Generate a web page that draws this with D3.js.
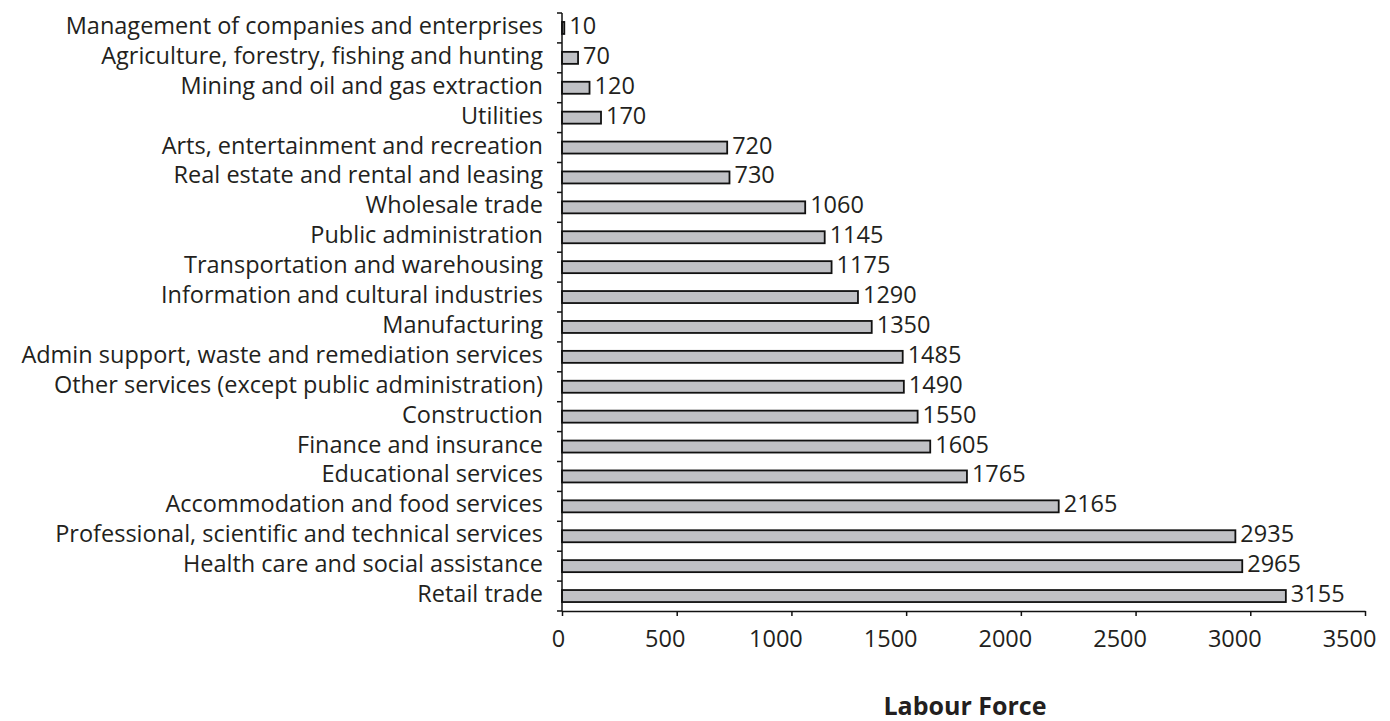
<!DOCTYPE html>
<html>
<head>
<meta charset="utf-8">
<script src="https://cdn.jsdelivr.net/npm/d3@7"></script>
<style>
  body { margin: 0; background: #fff; }
  text { font-family: "Open Sans", sans-serif; fill: #231f20; }
</style>
</head>
<body>
<div id="chart"></div>
<script>
// data, top to bottom as in the picture
var industries = [
  "Management of companies and enterprises",
  "Agriculture, forestry, fishing and hunting",
  "Mining and oil and gas extraction",
  "Utilities",
  "Arts, entertainment and recreation",
  "Real estate and rental and leasing",
  "Wholesale trade",
  "Public administration",
  "Transportation and warehousing",
  "Information and cultural industries",
  "Manufacturing",
  "Admin support, waste and remediation services",
  "Other services (except public administration)",
  "Construction",
  "Finance and insurance",
  "Educational services",
  "Accommodation and food services",
  "Professional, scientific and technical services",
  "Health care and social assistance",
  "Retail trade"
];
var labourForce = [10, 70, 120, 170, 720, 730, 1060, 1145, 1175, 1290, 1350,
  1485, 1490, 1550, 1605, 1765, 2165, 2935, 2965, 3155];
var xTicks = [0, 500, 1000, 1500, 2000, 2500, 3000, 3500];
var xTitle = "Labour Force";

var width = 1390, height = 721;
var plotLeft = 562, plotRight = 1365, plotTop = 13, plotBottom = 611;

var svg = d3.select("#chart").append("svg")
  .attr("width", width)
  .attr("height", height);

var x = d3.scaleLinear().domain([0, 3500]).range([plotLeft, plotRight]);
var yb = d3.scaleBand().domain(industries).range([plotTop, plotBottom]);
var barH = 12;

// bars
svg.append("g").selectAll("rect")
  .data(industries)
  .enter().append("rect")
  .attr("x", x(0))
  .attr("y", function(d) { return yb(d) + yb.bandwidth() / 2 - barH / 2; })
  .attr("width", function(d, i) { return x(labourForce[i]) - x(0); })
  .attr("height", barH)
  .attr("fill", "#c0c1c5")
  .attr("stroke", "#111")
  .attr("stroke-width", 1.8);

// value labels
svg.append("g").selectAll("text")
  .data(industries)
  .enter().append("text")
  .attr("x", function(d, i) { return x(labourForce[i]) + 5; })
  .attr("y", function(d) { return yb(d) + yb.bandwidth() / 2 + 6; })
  .attr("font-size", 23.5)
  .text(function(d, i) { return labourForce[i]; });

// y axis: line + ticks between categories
var ya = svg.append("g");
ya.append("line")
  .attr("x1", plotLeft).attr("x2", plotLeft)
  .attr("y1", plotTop).attr("y2", plotBottom)
  .attr("stroke", "#111").attr("stroke-width", 1.5);
ya.selectAll("line.tk")
  .data(d3.range(industries.length + 1))
  .enter().append("line")
  .attr("class", "tk")
  .attr("x1", plotLeft - 5).attr("x2", plotLeft)
  .attr("y1", function(i) { return plotTop + i * yb.step(); })
  .attr("y2", function(i) { return plotTop + i * yb.step(); })
  .attr("stroke", "#111").attr("stroke-width", 1.5);
ya.selectAll("text")
  .data(industries)
  .enter().append("text")
  .attr("x", plotLeft - 19)
  .attr("y", function(d) { return yb(d) + yb.bandwidth() / 2 + 6; })
  .attr("text-anchor", "end")
  .attr("font-size", 23.5)
  .text(function(d) { return d; });

// x axis
var xAxis = d3.axisBottom(x).tickValues(xTicks).tickFormat(d3.format("d"))
  .tickSize(5).tickSizeOuter(0);
var xg = svg.append("g")
  .attr("transform", "translate(0," + plotBottom + ")")
  .call(xAxis);
xg.select(".domain").attr("stroke", "#111").attr("stroke-width", 1.5);
xg.selectAll(".tick line").attr("stroke", "#111").attr("stroke-width", 1.5);
// labels in the picture sit a little left of their ticks
xg.selectAll(".tick text")
  .attr("y", 36)
  .attr("dy", null)
  .attr("dx", function(d) { return -4 * String(d).length; })
  .attr("font-size", 23.5)
  .attr("font-family", "Open Sans, sans-serif")
  .attr("fill", "#231f20");

svg.append("text")
  .attr("x", 965)
  .attr("y", 715)
  .attr("text-anchor", "middle")
  .attr("font-size", 25)
  .attr("font-weight", "bold")
  .text(xTitle);
</script>
</body>
</html>
